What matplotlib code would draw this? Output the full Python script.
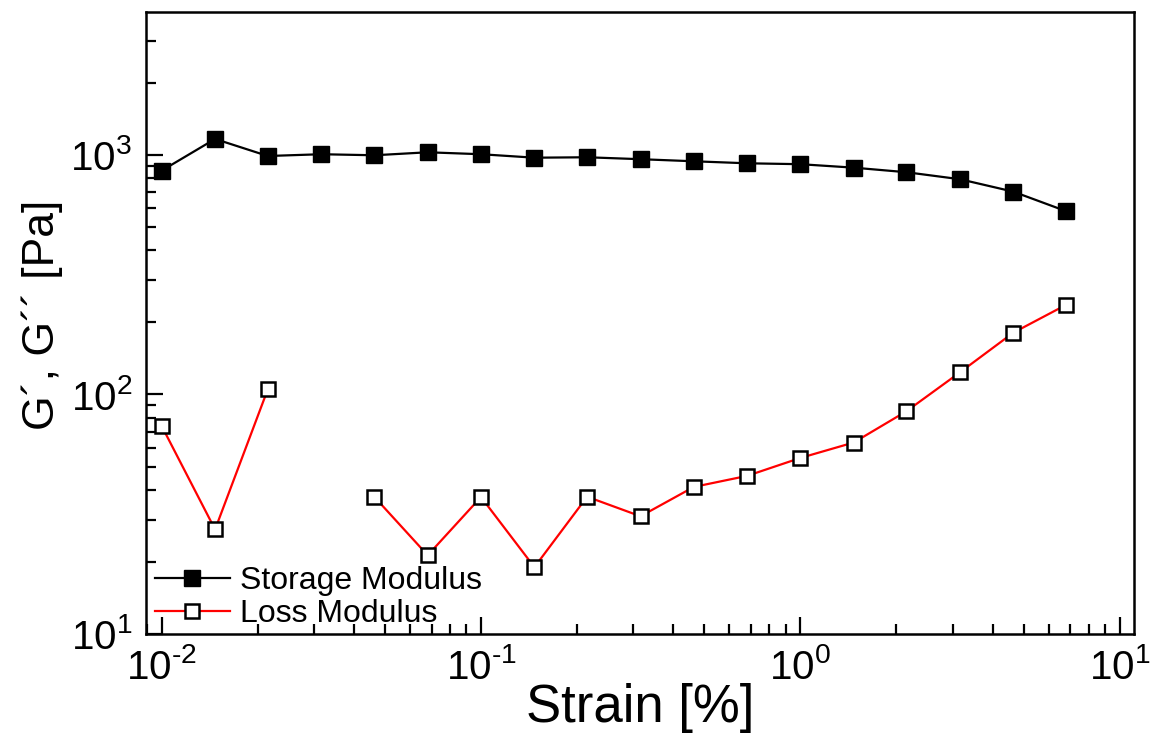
import numpy as np
import matplotlib
matplotlib.use('Agg')
import matplotlib.pyplot as plt
from matplotlib.ticker import FuncFormatter

plt.rcParams['font.family'] = ['Liberation Sans', 'DejaVu Sans']
plt.rcParams['mathtext.fontset'] = 'custom'
plt.rcParams['mathtext.rm'] = 'Liberation Sans'
plt.rcParams['mathtext.it'] = 'Liberation Sans'
plt.rcParams['mathtext.bf'] = 'Liberation Sans'
plt.rcParams['axes.unicode_minus'] = False

# strain sweep, amplitude in %
strain = [0.01, 0.0147, 0.0215, 0.0316, 0.0464, 0.0681, 0.1, 0.147, 0.215,
          0.316, 0.464, 0.681, 1.0, 1.47, 2.15, 3.16, 4.64, 6.81]
storage = [860, 1166, 990, 1007, 997, 1026, 1007, 974, 978,
           960, 941, 923, 915, 885, 847, 792, 703, 582]
# no reading for G'' at 0.0316 %
loss = [73.9, 27.3, 105, np.nan, 37.3, 21.3, 37.3, 19.0, 37.4,
        31.0, 41.1, 45.7, 54.3, 63.0, 85.1, 123.6, 180.9, 237]


def decade_label(v, pos):
    e = int(round(np.log10(v)))
    return r'$10^{\text{%d}}$' % e


fig = plt.figure(figsize=(11.62, 7.38), dpi=100)
ax = fig.add_axes([0.1256, 0.141, 0.8504, 0.843])

ax.plot(strain, storage, color='black', lw=1.6, marker='s', ms=11,
        mfc='black', mec='black', label='Storage Modulus')
ax.plot(strain, loss, color='red', lw=1.6, marker='s', ms=10,
        mfc='white', mec='black', mew=1.8, label='Loss Modulus')

ax.set_xscale('log')
ax.set_yscale('log')
ax.set_xlim(0.00893, 11.1)
ax.set_ylim(10, 3960)
ax.xaxis.set_major_formatter(FuncFormatter(decade_label))
ax.yaxis.set_major_formatter(FuncFormatter(decade_label))

for s in ax.spines.values():
    s.set_linewidth(1.8)
ax.tick_params(which='both', direction='in', top=False, right=False,
               labelsize=29, width=1.6, pad=10)
ax.tick_params(which='major', length=12)
ax.tick_params(which='minor', length=7)

ax.set_xlabel('Strain [%]', fontsize=38, labelpad=-3)
ax.set_ylabel('G\u00b4, G\u00b4\u00b4 [Pa]', fontsize=32)
ax.yaxis.set_label_coords(-0.084, 0.513)

ax.legend(loc='lower left', frameon=False, fontsize=23, handlelength=2.35,
          handletextpad=0.33, labelspacing=0.08, borderpad=0,
          borderaxespad=0, bbox_to_anchor=(0.009, 0.008))

fig.savefig('out.png', dpi=100)
